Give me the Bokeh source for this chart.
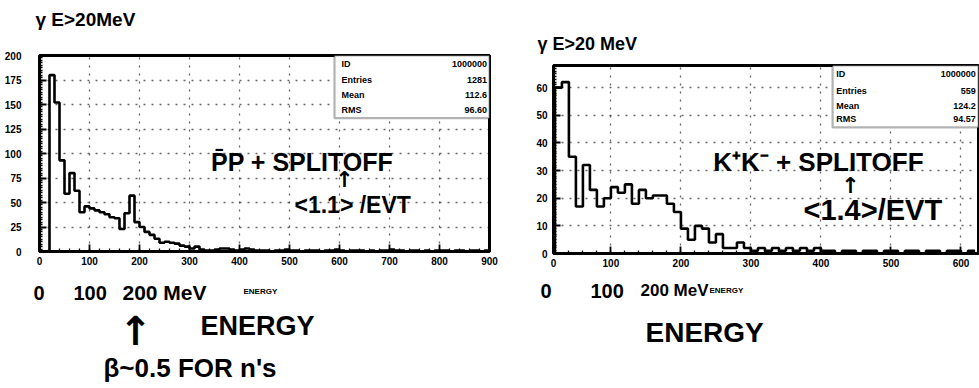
import numpy as np
from bokeh.plotting import figure
from bokeh.layouts import row, column
from bokeh.models import Label, BoxAnnotation, SingleIntervalTicker, FixedTicker, Range1d
from bokeh.embed import file_html
from bokeh.resources import INLINE

# ---------------- data ----------------
BIN_WIDTH = 10            # MeV per bin
LEFT_START = 20           # E > 20 MeV
LEFT_COUNTS = [180, 152, 93, 59, 80, 62, 40, 46, 44, 42,
               40, 38, 35, 34, 23, 39, 57, 30, 25, 20,
               17, 13, 9, 10, 9, 8, 6, 5, 3, 5,
               2, 1, 1, 2, 3, 3, 2, 1, 2, 3,
               2, 1, 1, 1, 0, 1, 1, 2, 1, 1,
               0, 1, 1, 1, 0, 1, 1, 2, 1, 0,
               1, 1, 1, 0, 1, 0, 1, 1, 2, 1,
               1, 0, 1, 1, 0, 1, 0, 1, 1, 1,
               0, 1, 1, 0, 1, 1, 0, 1]
RIGHT_START = 20
RIGHT_COUNTS = [60, 62, 35, 17, 32, 23, 17, 20, 24, 22,
                25, 18, 23, 20, 21, 21, 18, 15, 9, 5,
                10, 9, 4, 7, 2, 2, 4, 2, 1, 2,
                1, 2, 1, 2, 1, 2, 1, 2, 1, 1,
                0, 1, 1, 0, 1, 1, 0, 1, 1, 0,
                1, 1, 0, 1, 1, 0, 1, 1, 0, 1]

LEFT_X_RANGE = (0, 900)
LEFT_Y_RANGE = (0, 200)
RIGHT_X_RANGE = (18, 625)
RIGHT_Y_RANGE = (0, 68)
RIGHT_X_TICKS = [18, 100, 200, 300, 400, 500, 600]
RIGHT_X_TICK_LABELS = ["0", "100", "200", "300", "400", "500", "600"]

STAT_NAMES = ["ID", "Entries", "Mean", "RMS"]
LEFT_STAT_VALUES = ["1000000", "1281", "112.6", "96.60"]
RIGHT_STAT_VALUES = ["1000000", "559", "124.2", "94.57"]

LEFT_TITLE = "γ E>20MeV"
RIGHT_TITLE = "γ E>20 MeV"
LEFT_NOTE_1 = "P̄P + SPLITOFF"
LEFT_NOTE_2 = "<1.1> /EVT"
RIGHT_NOTE_1 = "K⁺K⁻ + SPLITOFF"
RIGHT_NOTE_2 = "<1.4>/EVT"
SCALE_0, SCALE_100, SCALE_200 = "0", "100", "200 MeV"
SMALL_AXIS_TITLE = "ENERGY"
BIG_AXIS_TITLE = "ENERGY"
BETA_NOTE = "β~0.5 FOR n's"
ARROW = "↑"

HAND = "Liberation Sans"
PRINT = "Liberation Sans"


def step_xy(start, counts):
    edges = start + BIN_WIDTH * np.arange(len(counts) + 1)
    xs = np.concatenate([[edges[0]], edges])
    ys = np.concatenate([[0], counts, [counts[-1]]])
    return xs, ys


def style(p):
    p.outline_line_color = "black"
    p.outline_line_width = 3
    p.background_fill_color = "white"
    p.border_fill_color = "white"
    for ax in (p.xaxis[0], p.yaxis[0]):
        ax.axis_line_color = None
        ax.major_tick_in = 7
        ax.major_tick_out = 0
        ax.minor_tick_in = 3
        ax.minor_tick_out = 0
        ax.major_tick_line_color = "black"
        ax.major_tick_line_width = 1.8
        ax.minor_tick_line_color = "black"
        ax.minor_tick_line_width = 1.3
        ax.major_label_text_font = PRINT
        ax.major_label_text_font_style = "bold"
        ax.major_label_text_font_size = "10px"
        ax.major_label_text_color = "black"
    p.grid.grid_line_color = "black"
    p.grid.grid_line_alpha = 0.6
    p.grid.grid_line_dash = "2 6"
    p.grid.grid_line_width = 1.3


def lab(p, x, y, text, size, align="left", font=HAND, fstyle="bold"):
    p.add_layout(Label(x=x, y=y, text=text, text_font=font,
                       text_font_size=f"{size}px", text_font_style=fstyle,
                       text_align=align, text_baseline="middle",
                       text_color="black"))


def stats(p, left, right, bottom, top, ys, xl, xr, values):
    p.add_layout(BoxAnnotation(left=left, right=right, bottom=bottom, top=top,
                               fill_color="white", fill_alpha=1.0,
                               line_color="black", line_width=2.2))
    for name, val, y in zip(STAT_NAMES, values, ys):
        lab(p, xl, y, name, 9, "left", PRINT)
        lab(p, xr, y, val, 9, "right", PRINT)


def strip(w, h):
    """Text-only strip: its frame fills the whole figure, pixel-like coords."""
    s = figure(width=w, height=h, output_backend="svg", toolbar_location=None,
               x_range=Range1d(0, w), y_range=Range1d(h, 0),
               x_axis_type=None, y_axis_type=None, frame_align=False,
               min_border=0, min_border_left=0, min_border_right=0,
               min_border_top=0, min_border_bottom=0)
    s.outline_line_color = None
    s.background_fill_color = "white"
    s.border_fill_color = "white"
    s.grid.visible = False
    return s


# ---------------- left column ----------------
top_l = strip(530, 45)
lab(top_l, 35, 19, LEFT_TITLE, 19)

pl = figure(width=530, height=230, output_backend="svg", toolbar_location=None,
            x_range=Range1d(*LEFT_X_RANGE), y_range=Range1d(*LEFT_Y_RANGE),
            frame_align=False,
            min_border_left=39, min_border_right=41,
            min_border_top=10, min_border_bottom=24)
pl.xaxis.ticker = SingleIntervalTicker(interval=100, num_minor_ticks=5)
pl.yaxis.ticker = SingleIntervalTicker(interval=25, num_minor_ticks=10)
style(pl)
pl.yaxis.major_label_standoff = 18
pl.xaxis.major_label_standoff = 5
xs, ys = step_xy(LEFT_START, LEFT_COUNTS)
pl.step(xs, ys, mode="after", line_color="black", line_width=2.6)
stats(pl, 590, 900, 136, 200, [191.8, 174.5, 159.2, 143.9], 604, 895, LEFT_STAT_VALUES)
lab(pl, 343, 91, LEFT_NOTE_1, 25)
lab(pl, 610, 73, ARROW, 22, "center", "DejaVu Sans")
lab(pl, 510, 47, LEFT_NOTE_2, 23)

bot_l = strip(530, 113)
lab(bot_l, 33, 17, SCALE_0, 20)
lab(bot_l, 73, 17, SCALE_100, 20)
lab(bot_l, 122, 17, SCALE_200, 21)
lab(bot_l, 243, 16, SMALL_AXIS_TITLE, 8, "left", PRINT)
lab(bot_l, 135, 55, ARROW, 40, "center", "DejaVu Sans")
lab(bot_l, 200, 50, BIG_AXIS_TITLE, 27)
lab(bot_l, 103, 92, BETA_NOTE, 26)

left_col = column(top_l, pl, bot_l, spacing=0)

# ---------------- right column ----------------
top_r = strip(449, 60)
lab(top_r, 7, 43, RIGHT_TITLE, 18)

pr = figure(width=449, height=218, output_backend="svg", toolbar_location=None,
            x_range=Range1d(*RIGHT_X_RANGE), y_range=Range1d(*RIGHT_Y_RANGE),
            frame_align=False,
            min_border_left=23, min_border_right=1,
            min_border_top=5, min_border_bottom=25)
pr.xaxis.ticker = FixedTicker(ticks=RIGHT_X_TICKS,
                              minor_ticks=list(range(20, 625, 20)))
pr.xaxis.major_label_overrides = {t: s for t, s in zip(RIGHT_X_TICKS, RIGHT_X_TICK_LABELS)}
pr.yaxis.ticker = SingleIntervalTicker(interval=10, num_minor_ticks=10)
style(pr)
pr.yaxis.major_label_standoff = 6
pr.xaxis.major_label_standoff = 5
xs, ys = step_xy(RIGHT_START, RIGHT_COUNTS)
pr.step(xs, ys, mode="after", line_color="black", line_width=2.6)
stats(pr, 416.6, 625, 45.6, 68, [65.1, 58.6, 53.5, 48.5], 422, 621, RIGHT_STAT_VALUES)
lab(pr, 246, 33, RIGHT_NOTE_1, 26)
lab(pr, 442, 24.6, ARROW, 22, "center", "DejaVu Sans")
lab(pr, 375, 15.6, RIGHT_NOTE_2, 29)

bot_r = strip(449, 110)
lab(bot_r, 10, 12, SCALE_0, 20)
lab(bot_r, 60, 12, SCALE_100, 20)
lab(bot_r, 110, 12, SCALE_200, 17)
lab(bot_r, 179, 12, SMALL_AXIS_TITLE, 8, "left", PRINT)
lab(bot_r, 115, 54, BIG_AXIS_TITLE, 28)

right_col = column(top_r, pr, bot_r, spacing=0)

layout = row(left_col, right_col, spacing=0)
open("out.html", "w").write(file_html(layout, INLINE))
